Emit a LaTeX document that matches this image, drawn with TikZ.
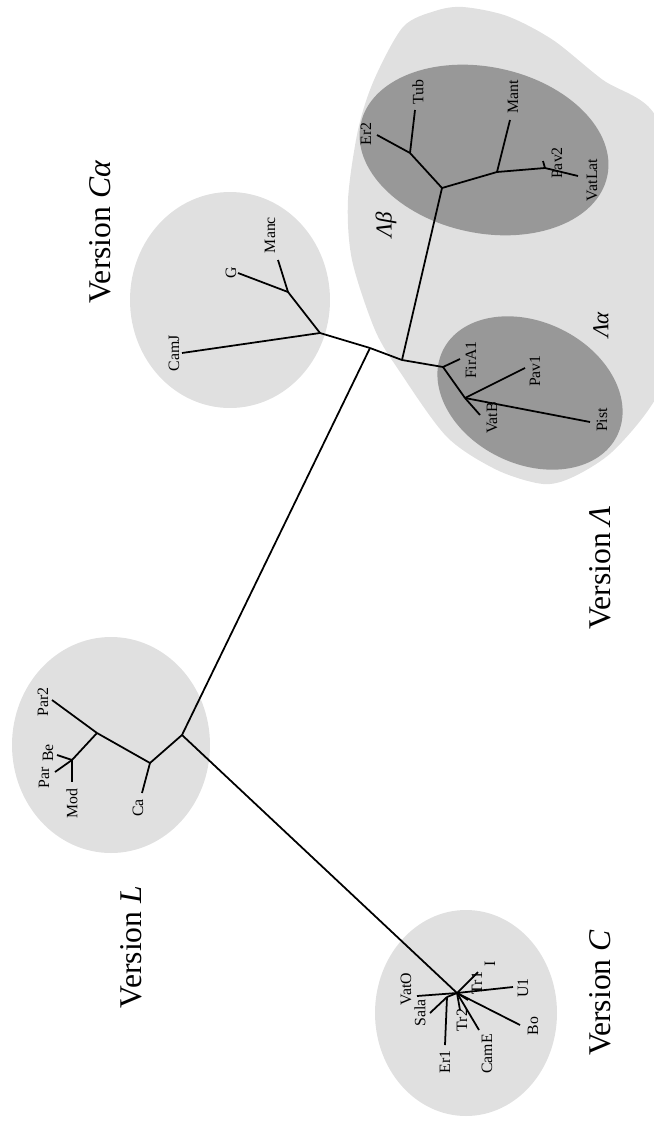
\documentclass[tikz,border=0pt]{standalone}
\usepackage{fontspec}
\setmainfont{Liberation Serif}
\definecolor{lightgrey}{RGB}{224,224,224}
\definecolor{darkgrey}{RGB}{152,152,152}
\tikzset{
  branch/.style={line width=1pt},
  leaf/.style={rotate=90, inner sep=1pt, font=\fontsize{9}{10}\selectfont},
  version/.style={rotate=90, font=\fontsize{18}{20}\selectfont},
  subgroup/.style={rotate=90, font=\fontsize{13}{15}\selectfont\itshape},
}
\begin{document}
\begin{tikzpicture}[x=0.02cm, y=-0.02cm]
    \useasboundingbox (0,0) rectangle (653,1122);
    % groups
    \fill[lightgrey] (230,300) ellipse [x radius=100, y radius=108];
    \fill[lightgrey] (111,745) ellipse [x radius=99, y radius=108];
    \fill[lightgrey] (466,1013) ellipse [x radius=91, y radius=103];
    \fill[lightgrey] plot[smooth cycle] coordinates {(463,7) (507,16) (553,40) (603,80) (653,112) (688,200) (688,330) (653,403) (612,452) (573,477) (543,484) (497,470) (447,437) (400,372) (375,330) (352,260) (348,200) (358,130) (374,80) (403,27) (435,11)};
    \fill[darkgrey, rotate around={-12:(484,150)}] (484,150) ellipse [x radius=126, y radius=83];
    \fill[darkgrey, rotate around={-26:(530,393)}] (530,393) ellipse [x radius=97, y radius=71];
    % inner vertices
    \coordinate (J_1) at (370,348);
    \coordinate (J_2) at (402,360);
    \coordinate (Ca_0) at (320,333);
    \coordinate (Ca_1) at (288,292);
    \coordinate (Lb_0) at (442,188);
    \coordinate (Lb_1) at (410,153);
    \coordinate (Lb_2) at (497,172);
    \coordinate (Lb_3) at (545,168);
    \coordinate (La_0) at (443,367);
    \coordinate (La_1) at (465,398);
    \coordinate (L_0) at (182,735);
    \coordinate (L_1) at (150,763);
    \coordinate (L_2) at (97,733);
    \coordinate (L_3) at (72,760);
    \coordinate (C_0) at (457,993);
    \coordinate (C_1) at (447,997);
    % leaves
    \coordinate (CamJ) at (182,353);
    \coordinate (G) at (238,273);
    \coordinate (Manc) at (278,260);
    \coordinate (Er2) at (377,135);
    \coordinate (Tub) at (415,110);
    \coordinate (Mant) at (510,120);
    \coordinate (Pav2) at (543,161);
    \coordinate (VatLat) at (578,176);
    \coordinate (FirA1) at (460,359);
    \coordinate (Pav1) at (525,368);
    \coordinate (VatB) at (480,415);
    \coordinate (Pist) at (590,422);
    \coordinate (Ca) at (142,793);
    \coordinate (Par2) at (52,700);
    \coordinate (Mod) at (72,782);
    \coordinate (Par) at (55,772);
    \coordinate (Be) at (57,755);
    \coordinate (VatO) at (417,996);
    \coordinate (Sala) at (430,1013);
    \coordinate (Er1) at (445,1045);
    \coordinate (Tr2) at (460,1010);
    \coordinate (CamE) at (479,1030);
    \coordinate (Tr1) at (468,1000);
    \coordinate (I) at (478,972);
    \coordinate (U1) at (513,987);
    \coordinate (Bo) at (520,1025);
    % backbone
    \draw[branch] (Ca_0) -- (J_1);
    \draw[branch] (J_1) -- (J_2);
    \draw[branch] (J_2) -- (La_0);
    \draw[branch] (J_2) -- (Lb_0);
    \draw[branch] (J_1) -- (L_0);
    \draw[branch] (L_0) -- (C_0);
    % C alpha
    \draw[branch] (Ca_0) -- (CamJ);
    \draw[branch] (Ca_0) -- (Ca_1);
    \draw[branch] (Ca_1) -- (G);
    \draw[branch] (Ca_1) -- (Manc);
    % Lambda beta
    \draw[branch] (Lb_0) -- (Lb_1);
    \draw[branch] (Lb_1) -- (Er2);
    \draw[branch] (Lb_1) -- (Tub);
    \draw[branch] (Lb_0) -- (Lb_2);
    \draw[branch] (Lb_2) -- (Mant);
    \draw[branch] (Lb_2) -- (Lb_3);
    \draw[branch] (Lb_3) -- (Pav2);
    \draw[branch] (Lb_3) -- (VatLat);
    % Lambda alpha
    \draw[branch] (La_0) -- (FirA1);
    \draw[branch] (La_0) -- (La_1);
    \draw[branch] (La_1) -- (Pav1);
    \draw[branch] (La_1) -- (VatB);
    \draw[branch] (La_1) -- (Pist);
    % L
    \draw[branch] (L_0) -- (L_1);
    \draw[branch] (L_1) -- (Ca);
    \draw[branch] (L_1) -- (L_2);
    \draw[branch] (L_2) -- (Par2);
    \draw[branch] (L_2) -- (L_3);
    \draw[branch] (L_3) -- (Mod);
    \draw[branch] (L_3) -- (Par);
    \draw[branch] (L_3) -- (Be);
    % C
    \draw[branch] (C_0) -- (VatO);
    \draw[branch] (C_0) -- (C_1);
    \draw[branch] (C_1) -- (Sala);
    \draw[branch] (C_1) -- (Er1);
    \draw[branch] (C_0) -- (Tr2);
    \draw[branch] (C_0) -- (CamE);
    \draw[branch] (C_0) -- (Tr1);
    \draw[branch] (C_0) -- (I);
    \draw[branch] (C_0) -- (U1);
    \draw[branch] (C_0) -- (Bo);
    % leaf labels
    \node[leaf] (lCamJ) at (174,353) {CamJ};
    \node[leaf] (lG) at (231,273) {G};
    \node[leaf] (lManc) at (270,235) {Manc};
    \node[leaf] (lEr2) at (366,134) {Er2};
    \node[leaf] (lTub) at (418,92) {Tub};
    \node[leaf] (lMant) at (513,97) {Mant};
    \node[leaf] (lPav2) at (557,163) {Pav2};
    \node[leaf] (lVatLat) at (592,180) {VatLat};
    \node[leaf] (lFirA1) at (471,360) {FirA1};
    \node[leaf] (lPav1) at (535,371) {Pav1};
    \node[leaf] (lVatB) at (492,418) {VatB};
    \node[leaf] (lPist) at (602,420) {Pist};
    \node[leaf] (lPar2) at (43,702) {Par2};
    \node[leaf] (lPar) at (44,778) {Par};
    \node[leaf] (lBe) at (48,753) {Be};
    \node[leaf] (lMod) at (72,804) {Mod};
    \node[leaf] (lCa) at (138,808) {Ca};
    \node[leaf] (lVatO) at (406,989) {VatO};
    \node[leaf] (lSala) at (420,1013) {Sala};
    \node[leaf] (lEr1) at (445,1062) {Er1};
    \node[leaf] (lTr2) at (462,1020) {Tr2};
    \node[leaf] (lCamE) at (487,1054) {CamE};
    \node[leaf] (lTr1) at (477,983) {Tr1};
    \node[leaf] (lI) at (490,964) {I};
    \node[leaf] (lU1) at (523,988) {U1};
    \node[leaf] (lBo) at (533,1026) {Bo};
    % group labels
    \node[subgroup] (lLb) at (386,225) {Λβ};
    \node[subgroup] (lLa) at (601,325) {Λα};
    \node[version] (vCa) at (100,232) {Version \textit{Cα}};
    \node[version] (vLa) at (600,568) {Version \textit{Λ}};
    \node[version] (vL) at (131,947) {Version \textit{L}};
    \node[version] (vC) at (600,993) {Version \textit{C}};
\end{tikzpicture}
\end{document}
